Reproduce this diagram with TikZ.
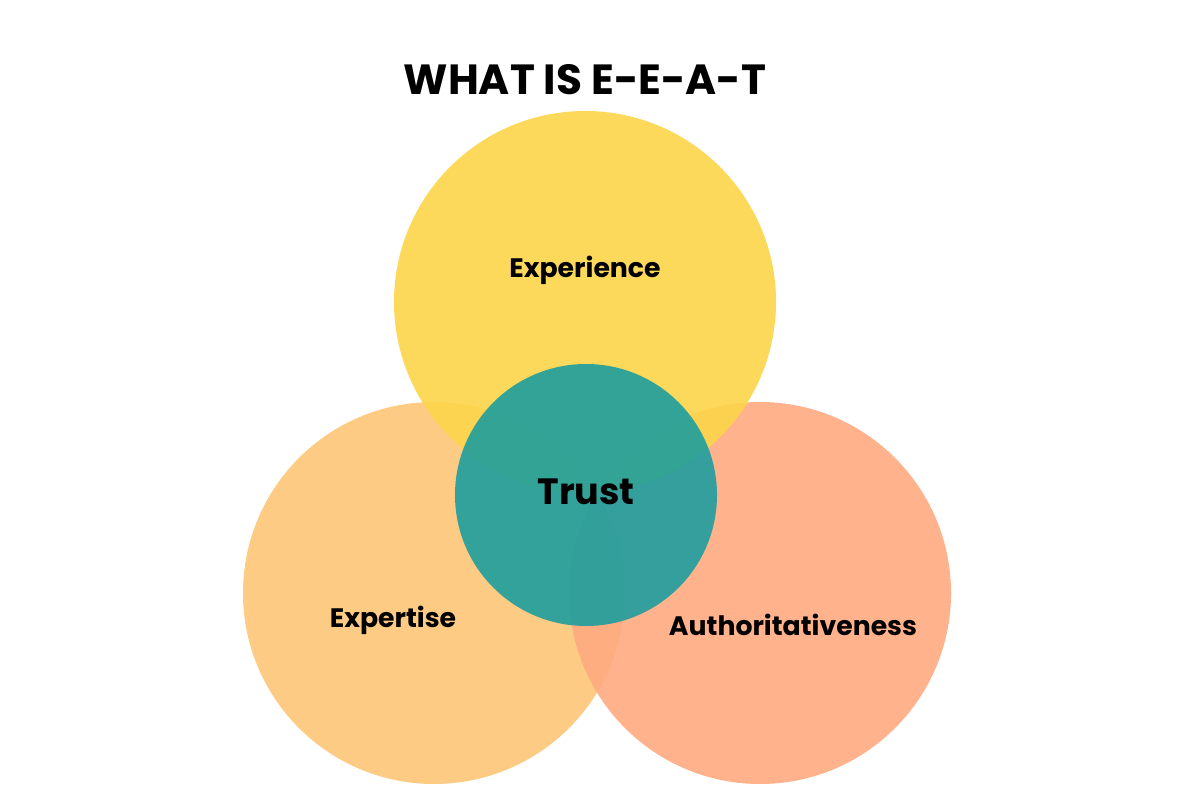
\documentclass[tikz,border=0pt]{standalone}
\usepackage{fontspec}
\setmainfont{Poppins}
\usepackage{xcolor}
\definecolor{expcol}{HTML}{FDD54A}
\definecolor{tiscol}{HTML}{FDC676}
\definecolor{autcol}{HTML}{FFAA80}
\definecolor{trucol}{HTML}{1E9E9E}
\begin{document}
\begin{tikzpicture}[x=0.025cm, y=-0.025cm,
  ring/.style={circle, draw=none, minimum size=382*0.025cm, inner sep=0pt, fill opacity=0.9, text opacity=1},
  label/.style={font=\fontsize{19}{22}\selectfont\bfseries, text=black}
]
  \useasboundingbox (0,0) rectangle (1200,800);
  \fill[white] (0,0) rectangle (1200,800);
  \node[font=\fontsize{30}{34}\selectfont\bfseries] (title) at (585,80) {WHAT IS E-E-A-T};
  \node[ring, fill=tiscol] (tis) at (434,593) {};
  \node[ring, fill=autcol] (aut) at (760,593) {};
  \node[ring, fill=expcol] (exp) at (585,302) {};
  \node[circle, minimum size=262*0.025cm, inner sep=0pt, fill=trucol, fill opacity=0.9] (tru) at (586,495) {};
  \node[label] at (585,270) {Experience};
  \node[label] at (393,620) {Expertise};
  \node[label] at (793,625) {Authoritativeness};
  \node[font=\fontsize{26}{30}\selectfont\bfseries] at (586,492) {Trust};
\end{tikzpicture}
\end{document}
